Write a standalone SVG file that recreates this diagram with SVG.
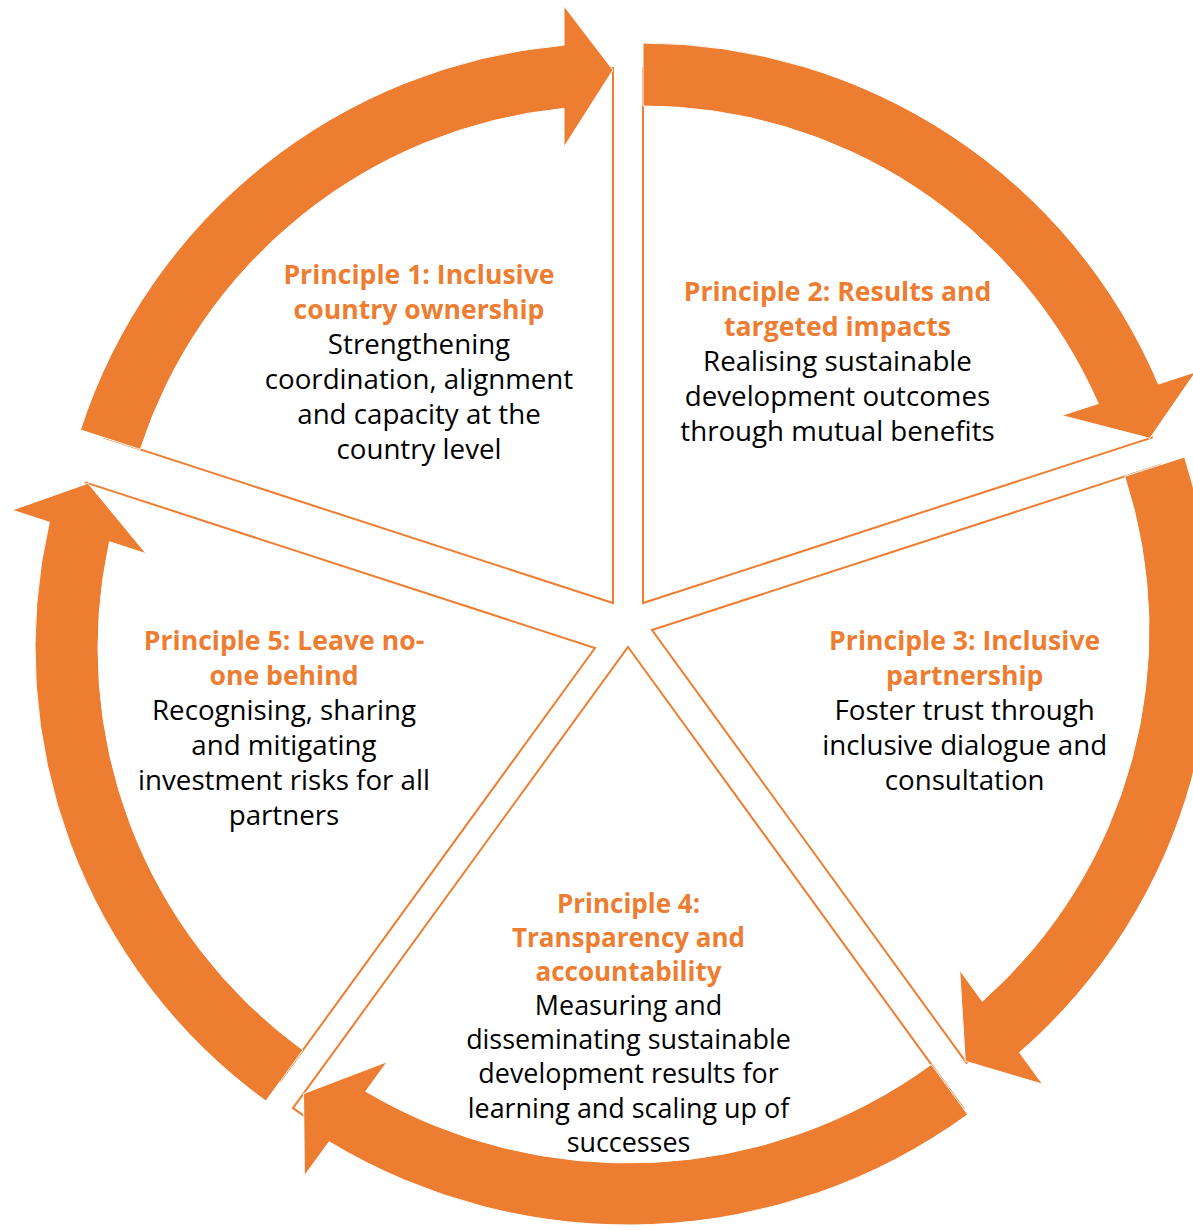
<svg xmlns="http://www.w3.org/2000/svg" width="1193" height="1230" viewBox="0 0 1193 1230">
<style>
.wedge{fill:#fff;stroke:#ED7D31;stroke-width:2;stroke-linejoin:miter}
.arrow{fill:#ED7D31;stroke:#fff;stroke-width:1}
text{font-family:"Open Sans","Liberation Sans",sans-serif;font-size:27.7px;text-anchor:middle}
.h{fill:#ED7D31;font-weight:bold;font-size:26.6px}
.b{fill:#000}
#principle4 .b{font-size:26.9px}
#principle4 .h{font-size:26px}
</style>
<rect width="1193" height="1230" fill="#fff"/>
<g id="principle1">
<path class="wedge" d="M613,603 L104.18,437.67 A535,535 0 0 1 613,68 Z"/>
<text x="419" y="283.5" class="h">Principle 1: Inclusive</text>
<text x="419" y="318.5" class="h">country ownership</text>
<text x="419" y="353.5" class="b">Strengthening</text>
<text x="419" y="388.5" class="b">coordination, alignment</text>
<text x="419" y="423.5" class="b">and capacity at the</text>
<text x="419" y="458.5" class="b">country level</text>
</g>
<g id="principle2">
<path class="wedge" d="M643,603 L643,68 A535,535 0 0 1 1151.82,437.67 Z"/>
<text x="837.5" y="300.7" class="h">Principle 2: Results and</text>
<text x="837.5" y="335.7" class="h">targeted impacts</text>
<text x="837.5" y="370.7" class="b">Realising sustainable</text>
<text x="837.5" y="405.7" class="b">development outcomes</text>
<text x="837.5" y="440.7" class="b">through mutual benefits</text>
</g>
<g id="principle3">
<path class="wedge" d="M652,630 L1160.82,464.67 A535,535 0 0 1 966.47,1062.83 Z"/>
<text x="964.7" y="649.5" class="h">Principle 3: Inclusive</text>
<text x="964.7" y="684.5" class="h">partnership</text>
<text x="964.7" y="719.5" class="b">Foster trust through</text>
<text x="964.7" y="754.5" class="b">inclusive dialogue and</text>
<text x="964.7" y="789.5" class="b">consultation</text>
</g>
<g id="principle4">
<path class="wedge" d="M628,647 L963.04,1108.14 A570,570 0 0 1 292.96,1108.14 Z"/>
<text x="628.5" y="912.7" class="h">Principle 4:</text>
<text x="628.5" y="946.8" class="h">Transparency and</text>
<text x="628.5" y="981" class="h">accountability</text>
<text x="628.5" y="1015.1" class="b">Measuring and</text>
<text x="628.5" y="1049.3" class="b">disseminating sustainable</text>
<text x="628.5" y="1083.4" class="b">development results for</text>
<text x="628.5" y="1117.5" class="b">learning and scaling up of</text>
<text x="628.5" y="1151.7" class="b">successes</text>
</g>
<g id="principle5">
<path class="wedge" d="M595,648 L280.53,1080.83 A535,535 0 0 1 86.18,482.67 Z"/>
<text x="284" y="649.5" class="h">Principle 5: Leave no-</text>
<text x="284" y="684.5" class="h">one behind</text>
<text x="284" y="719.5" class="b">Recognising, sharing</text>
<text x="284" y="754.5" class="b">and mitigating</text>
<text x="284" y="789.5" class="b">investment risks for all</text>
<text x="284" y="824.5" class="b">partners</text>
</g>
<g id="connectors">
<path id="arrow1" class="arrow" d="M80.4,429.9 A560,560 0 0 1 564,45.15 L564,6 L613,70 L564,147 L564,108.4 A497,497 0 0 0 140.3,449.4 Z"/>
<path id="arrow2" class="arrow" d="M643,43 A560,560 0 0 1 1158.41,384.01 L1195.64,371.92 L1149.91,438.29 L1061.54,415.49 L1098.23,403.57 A497,497 0 0 0 643,106 Z"/>
<path id="arrow3" class="arrow" d="M1184.59,456.95 A560,560 0 0 1 1019.54,1052.51 L1042.55,1084.18 L965.29,1061.21 L959.67,970.11 L982.35,1001.33 A497,497 0 0 0 1124.68,476.42 Z"/>
<path id="arrow4" class="arrow" d="M967.74,1114.61 A578,578 0 0 1 329.12,1141.73 L304.39,1175.77 L303.54,1093.58 L387.26,1061.7 L365.71,1091.37 A516,516 0 0 0 931.3,1064.45 Z"/>
<path id="arrow5" class="arrow" d="M265.84,1101.05 A560,560 0 0 1 49.31,522.21 L12.08,510.12 L88.09,483.29 L146.18,553.69 L109.49,541.77 A497,497 0 0 0 302.87,1050.08 Z"/>
</g>
</svg>
